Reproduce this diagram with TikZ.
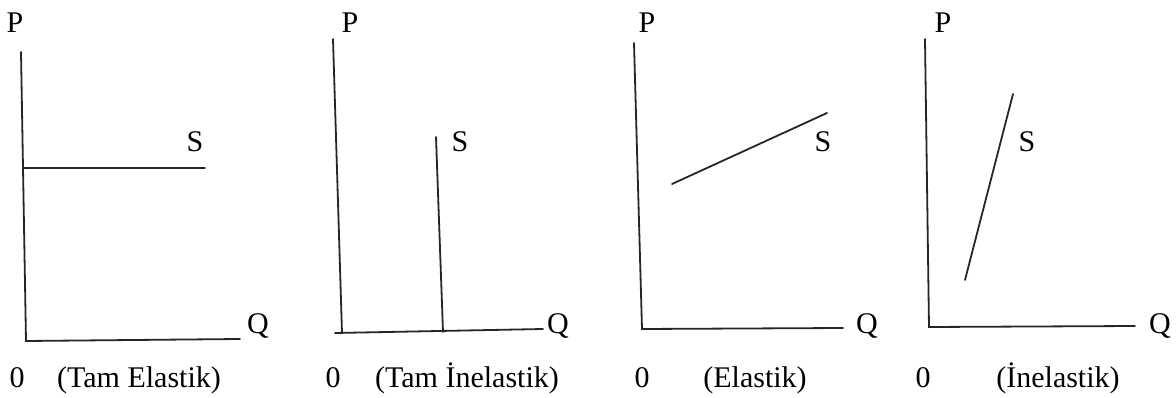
\documentclass[tikz,border=0pt]{standalone}
\usepackage{fontspec}
\setmainfont{Liberation Serif}
\usepackage{tikz}
\usepackage{xcolor}

\tikzset{
  axis/.style={black!85,line width=1.8pt},
  curve/.style={black!85,line width=1.8pt},
  lbl/.style={anchor=base,inner sep=0pt}
}

\begin{document}
\begin{tikzpicture}[x=1pt,y=-1pt,font=\fontsize{30}{36}\selectfont,line cap=round]
\useasboundingbox (0,0) rectangle (1176,398);
% Tam Elastik
\coordinate (p1) at (21,52);
\coordinate (o1) at (26,341);
\coordinate (q1) at (240,339);
\coordinate (s1a) at (24,168);
\coordinate (s1b) at (205,168);
\draw[axis] (p1) -- (o1) -- (q1);
\draw[curve] (s1a) -- (s1b);
\node[lbl] (P1) at (15,33) {P};
\node[lbl] (S1) at (195,152) {S};
\node[lbl] (Q1) at (258,333) {Q};
\node[lbl] (zero1) at (17,387) {0};
\node[lbl] (name1) at (139,387) {(Tam Elastik)};
% Tam Inelastik
\coordinate (p2) at (333,39);
\coordinate (o2) at (342,333);
\coordinate (o2l) at (335,333);
\coordinate (q2) at (543,329);
\coordinate (s2a) at (436,137);
\coordinate (s2b) at (443,332);
\draw[axis] (p2) -- (o2);
\draw[axis] (o2l) -- (q2);
\draw[curve] (s2a) -- (s2b);
\node[lbl] (P2) at (350,33) {P};
\node[lbl] (S2) at (460,152) {S};
\node[lbl] (Q2) at (558,333) {Q};
\node[lbl] (zero2) at (333,387) {0};
\node[lbl] (name2) at (467,387) {(Tam İnelastik)};
% Elastik
\coordinate (p3) at (634,43);
\coordinate (o3) at (642,329);
\coordinate (q3) at (843,328);
\coordinate (s3a) at (672,184);
\coordinate (s3b) at (827,113);
\draw[axis] (p3) -- (o3) -- (q3);
\draw[curve] (s3a) -- (s3b);
\node[lbl] (P3) at (647,33) {P};
\node[lbl] (S3) at (823,152) {S};
\node[lbl] (Q3) at (867,334) {Q};
\node[lbl] (zero3) at (642,387) {0};
\node[lbl] (name3) at (755,387) {(Elastik)};
% Inelastik
\coordinate (p4) at (925,39);
\coordinate (o4) at (929,327);
\coordinate (q4) at (1135,326);
\coordinate (s4a) at (965,280);
\coordinate (s4b) at (1013,94);
\draw[axis] (p4) -- (o4) -- (q4);
\draw[curve] (s4a) -- (s4b);
\node[lbl] (P4) at (943,33) {P};
\node[lbl] (S4) at (1027,152) {S};
\node[lbl] (Q4) at (1160,334) {Q};
\node[lbl] (zero4) at (923,387) {0};
\node[lbl] (name4) at (1058,387) {(İnelastik)};
\end{tikzpicture}
\end{document}
